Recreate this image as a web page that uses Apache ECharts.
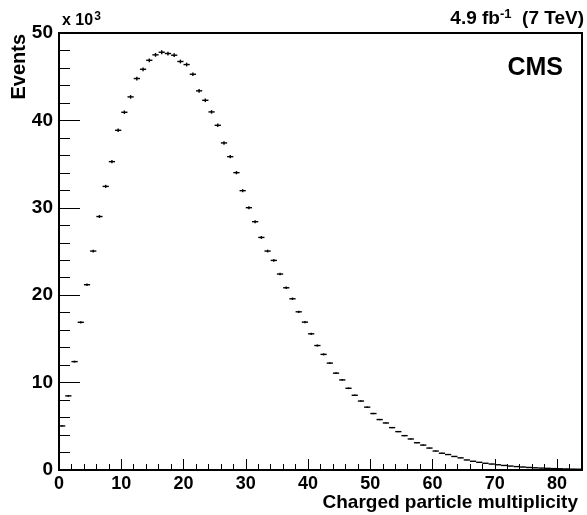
<!DOCTYPE html>
<html>
<head>
<meta charset="utf-8">
<script src="https://cdn.jsdelivr.net/npm/echarts@6/dist/echarts.min.js"></script>
<style>
html,body{margin:0;padding:0;background:#fff;}
#chart{width:587px;height:515px;}
</style>
</head>
<body>
<div id="chart"></div>
<script>
// Bin centres (charged particle multiplicity), bin width 1
var binCenters = [0.5,1.5,2.5,3.5,4.5,5.5,6.5,7.5,8.5,9.5,10.5,11.5,12.5,13.5,14.5,15.5,16.5,17.5,18.5,19.5,
  20.5,21.5,22.5,23.5,24.5,25.5,26.5,27.5,28.5,29.5,30.5,31.5,32.5,33.5,34.5,35.5,36.5,37.5,38.5,39.5,
  40.5,41.5,42.5,43.5,44.5,45.5,46.5,47.5,48.5,49.5,50.5,51.5,52.5,53.5,54.5,55.5,56.5,57.5,58.5,59.5,
  60.5,61.5,62.5,63.5,64.5,65.5,66.5,67.5,68.5,69.5,70.5,71.5,72.5,73.5,74.5,75.5,76.5,77.5,78.5,79.5,
  80.5,81.5,82.5,83.5];
// Events (x 10^3)
var events = [5.04,8.48,12.4,16.9,21.2,25.05,29.0,32.45,35.28,38.87,40.93,42.69,44.79,45.85,46.88,47.5,47.8,47.65,47.46,46.74,
  46.39,45.28,43.38,42.3,40.97,39.44,37.42,35.85,34.02,31.96,30.01,28.41,26.61,25.05,23.98,22.42,20.85,19.59,18.1,16.92,
  15.58,14.24,13.23,12.23,11.08,10.31,9.35,8.55,7.89,7.19,6.46,5.77,5.38,4.85,4.39,3.93,3.55,3.12,2.85,2.51,
  2.17,1.92,1.77,1.55,1.39,1.15,1.0,0.88,0.77,0.68,0.6,0.52,0.45,0.39,0.34,0.29,0.25,0.22,0.19,0.16,
  0.14,0.12,0.10,0.09];
var binWidth = 1;
var xTicks = [0,10,20,30,40,50,60,70,80];
var yTicks = [0,10,20,30,40,50];

var data = binCenters.map(function(c,i){ return [c, events[i]]; });

var chart = echarts.init(document.getElementById('chart'), null, {renderer:'canvas'});
var FONT = 'Liberation Sans';
chart.setOption({
  animation:false,
  backgroundColor:'#fff',
  grid:{left:59, right:5, top:33, bottom:45, show:true, borderColor:'#000', borderWidth:2, backgroundColor:'transparent'},
  xAxis:{
    type:'value', min:0, max:84, interval:10,
    axisLine:{show:true, onZero:false, lineStyle:{color:'#000', width:2}},
    axisTick:{show:true, inside:true, length:11, lineStyle:{color:'#000', width:1}},
    minorTick:{show:true, splitNumber:5, length:6, lineStyle:{color:'#000', width:1}},
    splitLine:{show:false},
    axisLabel:{color:'#000', fontFamily:FONT, fontWeight:'bold', fontSize:18, margin:5,
      formatter:function(v){ return xTicks.indexOf(v)>=0 ? String(v) : ''; }}
  },
  yAxis:{
    type:'value', min:0, max:50, interval:10,
    axisLine:{show:true, lineStyle:{color:'#000', width:2}},
    axisTick:{show:true, inside:true, length:21, lineStyle:{color:'#000', width:1}},
    minorTick:{show:true, splitNumber:5, length:11, lineStyle:{color:'#000', width:1}},
    splitLine:{show:false},
    axisLabel:{color:'#000', fontFamily:FONT, fontWeight:'bold', fontSize:19, margin:6,
      formatter:function(v){ return yTicks.indexOf(v)>=0 ? String(v) : ''; }}
  },
  series:[{
    type:'custom',
    data:data,
    clip:true,
    renderItem:function(params, api){
      var x = api.value(0), y = api.value(1);
      var err = Math.sqrt(y*1000)/1000;
      var pL = api.coord([x-binWidth/2, y]);
      var pR = api.coord([x+binWidth/2, y]);
      var pT = api.coord([x, y+err]);
      var pB = api.coord([x, y-err]);
      return {type:'group', children:[
        {type:'line', shape:{x1:pL[0], y1:pL[1], x2:pR[0], y2:pR[1]}, style:{stroke:'#000', lineWidth:1.4}},
        {type:'line', shape:{x1:pT[0], y1:pT[1], x2:pB[0], y2:pB[1]}, style:{stroke:'#000', lineWidth:1.4}}
      ]};
    }
  }],
  graphic:[
    {type:'text', x:62, y:21, style:{text:'{b|x 10}{s|3}', textVerticalAlign:'middle',
      rich:{b:{fontFamily:FONT, fontWeight:'bold', fontSize:16, fill:'#000'},
            s:{fontFamily:FONT, fontWeight:'bold', fontSize:12, fill:'#000', padding:[0,0,9,1]}}}},
    {type:'text', x:19, y:34, rotation:Math.PI/2, style:{text:'Events', fontFamily:FONT, fontWeight:'bold', fontSize:20,
      fill:'#000', textAlign:'right', textVerticalAlign:'middle'}},
    {type:'text', right:3, y:19, style:{text:'{b|4.9 fb}{s|-1}{b|  (7 TeV)}', textVerticalAlign:'middle',
      rich:{b:{fontFamily:FONT, fontWeight:'bold', fontSize:19, fill:'#000'},
            s:{fontFamily:FONT, fontWeight:'bold', fontSize:13, fill:'#000', padding:[0,0,10,0]}}}},
    {type:'text', right:24, y:56, style:{text:'CMS', fontFamily:FONT, fontWeight:'bold', fontSize:25, fill:'#000'}},
    {type:'text', right:9, y:493, style:{text:'Charged particle multiplicity', fontFamily:FONT, fontWeight:'bold',
      fontSize:19, fill:'#000'}}
  ]
});
</script>
</body>
</html>
